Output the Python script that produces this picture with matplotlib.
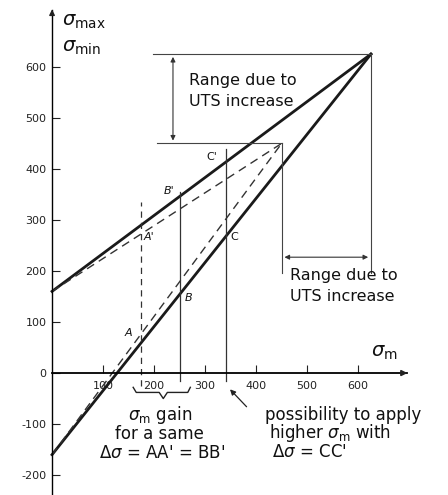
import matplotlib.pyplot as plt
import numpy as np

plt.rcParams['axes.unicode_minus'] = False

# Haigh diagram: old and new UTS lines
sig_a0 = 160
apex_new = 625
apex_old = 450

upper_new_x = [0, apex_new]
upper_new_y = [sig_a0, apex_new]
lower_new_x = [0, apex_new]
lower_new_y = [-sig_a0, apex_new]
upper_old_x = [0, apex_old]
upper_old_y = [sig_a0, apex_old]
lower_old_x = [0, apex_old]
lower_old_y = [-sig_a0, apex_old]

# operating points (sigma_m) and their vertical extents
x_A, x_B, x_C = 175, 250, 340

xticks = [100, 200, 300, 400, 500, 600]
yticks = [-200, -100, 0, 100, 200, 300, 400, 500, 600]

fig = plt.figure(figsize=(4.48, 4.95), dpi=100)
fig.patch.set_facecolor('white')
ax = fig.add_axes([0, 0, 1, 1])
ax.set_xlim(-102, 776)
ax.set_ylim(-239, 731)

# axes through origin
for s in ['top', 'right']:
    ax.spines[s].set_visible(False)
ax.spines['left'].set_position(('data', 0))
ax.spines['bottom'].set_position(('data', 0))
ax.spines['left'].set_bounds(-239, 712)
ax.spines['bottom'].set_bounds(0, 695)
ax.spines['left'].set_linewidth(1.0)
ax.spines['bottom'].set_linewidth(1.3)
ax.set_xticks(xticks)
ax.set_yticks(yticks)
ax.tick_params(direction='in', length=6, width=0.8, labelsize=8, colors='#222222')
ax.tick_params(axis='y', pad=4)
ax.tick_params(axis='x', pad=6)
ax.annotate('', xy=(0, 718), xytext=(0, 700),
            arrowprops=dict(arrowstyle='-|>', color='#222222', lw=1, mutation_scale=8))
ax.annotate('', xy=(702, 0), xytext=(680, 0),
            arrowprops=dict(arrowstyle='-|>', color='#222222', lw=1.3, mutation_scale=8))

# main lines
ax.plot(upper_new_x, upper_new_y, color='#1a1a1a', lw=2.0)
ax.plot(lower_new_x, lower_new_y, color='#1a1a1a', lw=2.0)
ax.plot(upper_old_x, upper_old_y, color='#333333', lw=1.0, ls=(0, (6, 4)))
ax.plot(lower_old_x, lower_old_y, color='#333333', lw=1.0, ls=(0, (6, 4)))

# verticals at the operating points
ax.plot([x_A, x_A], [-25, 335], color='#333333', lw=0.9, ls=(0, (5, 4)))
ax.plot([x_B, x_B], [-15, 355], color='#333333', lw=0.9)
ax.plot([x_C, x_C], [-15, 440], color='#333333', lw=0.9)

# construction lines for UTS ranges
ax.plot([198, apex_new], [apex_new, apex_new], color='#444444', lw=0.8)
ax.plot([205, apex_old], [apex_old, apex_old], color='#444444', lw=0.8)
ax.plot([apex_new, apex_new], [apex_new, 196], color='#444444', lw=0.8)
ax.plot([apex_old, apex_old], [apex_old, 196], color='#444444', lw=0.8)
ax.annotate('', xy=(237, apex_new), xytext=(237, apex_old),
            arrowprops=dict(arrowstyle='<|-|>', color='#333333', lw=0.8, mutation_scale=7))
ax.annotate('', xy=(apex_old, 227), xytext=(apex_new, 227),
            arrowprops=dict(arrowstyle='<|-|>', color='#333333', lw=0.8, mutation_scale=7))

# brace under sigma_m gain
bx = [159, 165, 210, 218, 226, 266, 271]
by = [-28, -38, -38, -50, -38, -38, -28]
ax.plot(bx, by, color='#222222', lw=1.0)

# arrow to C vertical
ax.annotate('', xy=(345, -28), xytext=(385, -70),
            arrowprops=dict(arrowstyle='-|>', color='#222222', lw=0.9, mutation_scale=8))

txt = dict(color='#111111')
ax.text(20, 688, r'$\sigma_{\rm max}$', fontsize=14, va='center', **txt)
ax.text(20, 637, r'$\sigma_{\rm min}$', fontsize=14, va='center', **txt)
ax.text(625, 40, r'$\sigma_{\rm m}$', fontsize=14, va='center', **txt)
ax.text(268, 574, 'Range due to', fontsize=11.5, va='center', **txt)
ax.text(268, 533, 'UTS increase', fontsize=11.5, va='center', **txt)
ax.text(467, 192, 'Range due to', fontsize=11.5, va='center', **txt)
ax.text(467, 150, 'UTS increase', fontsize=11.5, va='center', **txt)
ax.text(212, -82, r'$\sigma_{\rm m}$ gain', fontsize=12, va='center', ha='center', **txt)
ax.text(210, -120, 'for a same', fontsize=12, va='center', ha='center', **txt)
ax.text(215, -156, r"$\Delta\sigma$ = AA' = BB'", fontsize=12, va='center', ha='center', **txt)
ax.text(417, -82, 'possibility to apply', fontsize=12, va='center', **txt)
ax.text(425, -118, r'higher $\sigma_{\rm m}$ with', fontsize=12, va='center', **txt)
ax.text(432, -155, r"$\Delta\sigma$ = CC'", fontsize=12, va='center', **txt)

# point labels
ax.text(150, 78, 'A', fontsize=8, style='italic', ha='center', va='center', **txt)
ax.text(190, 266, "A'", fontsize=8, style='italic', ha='center', va='center', **txt)
ax.text(268, 147, 'B', fontsize=8, style='italic', ha='center', va='center', **txt)
ax.text(230, 357, "B'", fontsize=8, style='italic', ha='center', va='center', **txt)
ax.text(358, 266, 'C', fontsize=8, ha='center', va='center', **txt)
ax.text(313, 424, "C'", fontsize=8, ha='center', va='center', **txt)

fig.savefig('out.png', dpi=100)
